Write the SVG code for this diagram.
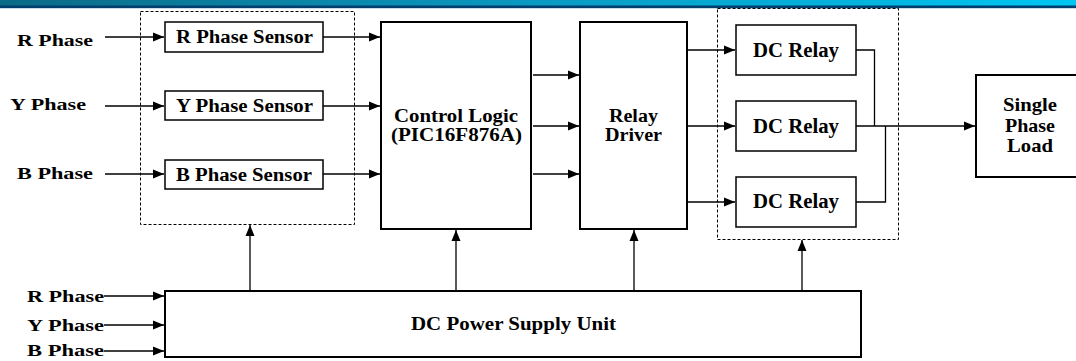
<svg xmlns="http://www.w3.org/2000/svg" width="1076" height="361" viewBox="0 0 1076 361">
<style>
.box{fill:#fff;stroke:#000;stroke-width:2}
.sbox{fill:#fff;stroke:#000;stroke-width:1.5}
.dash{fill:none;stroke:#000;stroke-width:1;stroke-dasharray:3,2}
.ln{fill:none;stroke:#000;stroke-width:1.3}
.t{font-family:"Liberation Serif","Times New Roman",serif;font-weight:bold;fill:#000}
.c{text-anchor:middle}
</style>
<defs>
<linearGradient id="band" x1="0" y1="0" x2="1" y2="0">
<stop offset="0" stop-color="#0b6a86"/>
<stop offset="0.5" stop-color="#0a9ac2"/>
<stop offset="1" stop-color="#00c6f2"/>
</linearGradient>
<marker id="ah" markerUnits="userSpaceOnUse" markerWidth="12" markerHeight="10" refX="11" refY="5" orient="auto">
<path d="M0,0.5 L11,5 L0,9.5 Z" fill="#000"/>
</marker>
</defs>
<rect x="0" y="0" width="1076" height="361" fill="#fff"/>
<g id="header">
<rect x="0" y="0" width="1076" height="6" fill="url(#band)"/>
<rect x="0" y="5.5" width="1076" height="2.5" fill="#003e6e"/>
<rect x="0" y="8" width="1076" height="1" fill="#c8dcea"/>
</g>

<g id="sensor-group">
<rect class="dash" x="140.5" y="11.5" width="214" height="213"/>
</g>
<g id="relay-group">
<rect class="dash" x="717.5" y="8.5" width="181" height="231"/>
</g>

<g id="in-labels">
<text class="t" x="17" y="46" font-size="17" textLength="76" lengthAdjust="spacingAndGlyphs">R  Phase</text>
<text class="t" x="10" y="110" font-size="17" textLength="76" lengthAdjust="spacingAndGlyphs">Y  Phase</text>
<text class="t" x="17" y="179" font-size="17" textLength="76" lengthAdjust="spacingAndGlyphs">B  Phase</text>
</g>

<g id="r-sensor">
<rect class="sbox" x="165" y="22" width="158" height="30"/>
<text class="t" x="176" y="43" font-size="18" textLength="137" lengthAdjust="spacingAndGlyphs">R Phase Sensor</text>
</g>
<g id="y-sensor">
<rect class="sbox" x="165" y="91" width="158" height="29"/>
<text class="t" x="176" y="112" font-size="18" textLength="137" lengthAdjust="spacingAndGlyphs">Y Phase Sensor</text>
</g>
<g id="b-sensor">
<rect class="sbox" x="165" y="160" width="158" height="29"/>
<text class="t" x="176" y="181" font-size="18" textLength="136" lengthAdjust="spacingAndGlyphs">B Phase Sensor</text>
</g>

<g id="control-logic">
<rect class="box" x="381" y="22" width="150" height="207"/>
<text class="t" x="394" y="122" font-size="18" textLength="124" lengthAdjust="spacingAndGlyphs">Control Logic</text>
<text class="t" x="391" y="141" font-size="18" textLength="131" lengthAdjust="spacingAndGlyphs">(PIC16F876A)</text>
</g>

<g id="relay-driver">
<rect class="box" x="580" y="22" width="107" height="207"/>
<text class="t" x="609" y="122" font-size="18" textLength="49" lengthAdjust="spacingAndGlyphs">Relay</text>
<text class="t" x="605" y="141" font-size="18" textLength="57" lengthAdjust="spacingAndGlyphs">Driver</text>
</g>

<g id="dc-relay-1">
<rect class="sbox" x="736" y="25" width="120" height="50"/>
<text class="t" x="753" y="57" font-size="20" textLength="86" lengthAdjust="spacingAndGlyphs">DC Relay</text>
</g>
<g id="dc-relay-2">
<rect class="sbox" x="736" y="101" width="120" height="50"/>
<text class="t" x="753" y="133" font-size="20" textLength="86" lengthAdjust="spacingAndGlyphs">DC Relay</text>
</g>
<g id="dc-relay-3">
<rect class="sbox" x="736" y="177" width="120" height="50"/>
<text class="t" x="753" y="208" font-size="20" textLength="86" lengthAdjust="spacingAndGlyphs">DC Relay</text>
</g>

<g id="load">
<rect class="box" x="976" y="75" width="110" height="102"/>
<text class="t" x="1003" y="111" font-size="19" textLength="54" lengthAdjust="spacingAndGlyphs">Single</text>
<text class="t" x="1005" y="132" font-size="19" textLength="50" lengthAdjust="spacingAndGlyphs">Phase</text>
<text class="t" x="1007" y="152" font-size="19" textLength="46" lengthAdjust="spacingAndGlyphs">Load</text>
</g>

<g id="power-supply">
<rect class="box" x="165" y="291" width="696" height="66"/>
<text class="t" x="411" y="330" font-size="18" textLength="205" lengthAdjust="spacingAndGlyphs">DC Power Supply Unit</text>
</g>

<g id="ps-labels">
<text class="t" x="27" y="302" font-size="17" textLength="77" lengthAdjust="spacingAndGlyphs">R  Phase</text>
<text class="t" x="27" y="331" font-size="17" textLength="77" lengthAdjust="spacingAndGlyphs">Y  Phase</text>
<text class="t" x="27" y="356" font-size="17" textLength="77" lengthAdjust="spacingAndGlyphs">B  Phase</text>
</g>

<g id="connectors">
<path class="ln" marker-end="url(#ah)" d="M105,37 H164"/>
<path class="ln" marker-end="url(#ah)" d="M105,106 H164"/>
<path class="ln" marker-end="url(#ah)" d="M105,174 H164"/>
<path class="ln" marker-end="url(#ah)" d="M323,37 H380"/>
<path class="ln" marker-end="url(#ah)" d="M323,106 H380"/>
<path class="ln" marker-end="url(#ah)" d="M323,174 H380"/>
<path class="ln" marker-end="url(#ah)" d="M533,75 H579"/>
<path class="ln" marker-end="url(#ah)" d="M533,126 H579"/>
<path class="ln" marker-end="url(#ah)" d="M533,174 H579"/>
<path class="ln" marker-end="url(#ah)" d="M688,50 H735"/>
<path class="ln" marker-end="url(#ah)" d="M688,126 H735"/>
<path class="ln" marker-end="url(#ah)" d="M688,202 H735"/>
<path class="ln" d="M856,50 H874.5 V126"/>
<path class="ln" d="M856,202 H885.5 V126"/>
<path class="ln" marker-end="url(#ah)" d="M856,126 H975"/>
<path class="ln" marker-end="url(#ah)" d="M104,296 H164"/>
<path class="ln" marker-end="url(#ah)" d="M104,325 H164"/>
<path class="ln" marker-end="url(#ah)" d="M104,351 H164"/>
<path class="ln" marker-end="url(#ah)" d="M250,290 V225"/>
<path class="ln" marker-end="url(#ah)" d="M456,290 V230"/>
<path class="ln" marker-end="url(#ah)" d="M634,290 V230"/>
<path class="ln" marker-end="url(#ah)" d="M802,290 V240"/>
</g>
</svg>
